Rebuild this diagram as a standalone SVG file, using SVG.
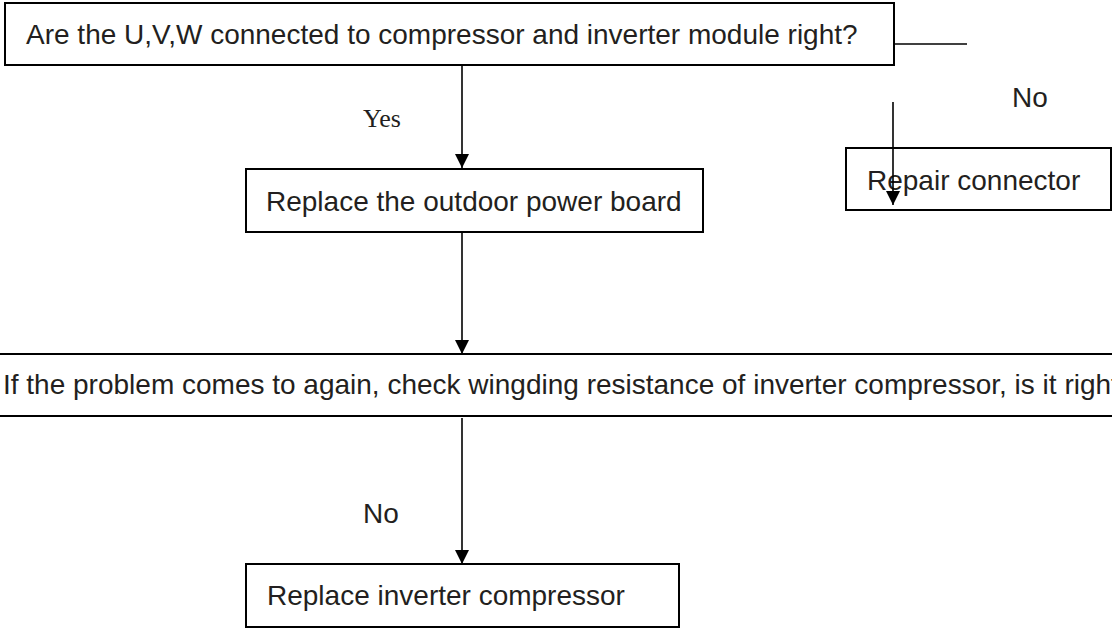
<svg xmlns="http://www.w3.org/2000/svg" width="1112" height="630" viewBox="0 0 1112 630">
<style>
.box{fill:#fff;stroke:#000;stroke-width:2}
.t{font-family:"Liberation Sans",Arial,sans-serif;font-size:28px;fill:#231f20}
.ts{font-family:"Liberation Serif","Times New Roman",serif;font-size:26px;fill:#231f20}
.ln{stroke:#000;stroke-width:1.6;fill:none}
</style>
<defs>
<marker id="ah" markerUnits="userSpaceOnUse" markerWidth="14" markerHeight="14" refX="14" refY="7" orient="auto">
<path d="M0,0 L14,7 L0,14 z" fill="#000"/>
</marker>
</defs>
<rect width="1112" height="630" fill="#fff"/>
<g id="n1"><rect class="box" x="5" y="3" width="889" height="62"/><text class="t" x="26" y="44">Are the U,V,W connected to compressor and inverter module right?</text></g>
<g id="n2"><rect class="box" x="246" y="169" width="457" height="63"/><text class="t" x="266" y="211">Replace the outdoor power board</text></g>
<g id="n3"><rect class="box" x="846" y="148" width="265" height="62"/><text class="t" x="867" y="190">Repair connector</text></g>
<g id="n4"><rect class="box" x="-20" y="354" width="1160" height="62"/><text class="t" x="3" y="394">If the problem comes to again, check wingding resistance of inverter compressor, is it right?</text></g>
<g id="n5"><rect class="box" x="246" y="564" width="433" height="63"/><text class="t" x="267" y="605">Replace inverter compressor</text></g>
<g id="connectors">
<line class="ln" x1="462" y1="65" x2="462" y2="168" marker-end="url(#ah)"/>
<line class="ln" x1="894" y1="44" x2="967" y2="44"/>
<line class="ln" x1="893" y1="102" x2="893" y2="205" marker-end="url(#ah)"/>
<line class="ln" x1="462" y1="232" x2="462" y2="354" marker-end="url(#ah)"/>
<line class="ln" x1="462" y1="418" x2="462" y2="564" marker-end="url(#ah)"/>
<text class="ts" x="363" y="127">Yes</text>
<text class="t" x="1012" y="107">No</text>
<text class="t" x="363" y="523">No</text>
</g>
</svg>
